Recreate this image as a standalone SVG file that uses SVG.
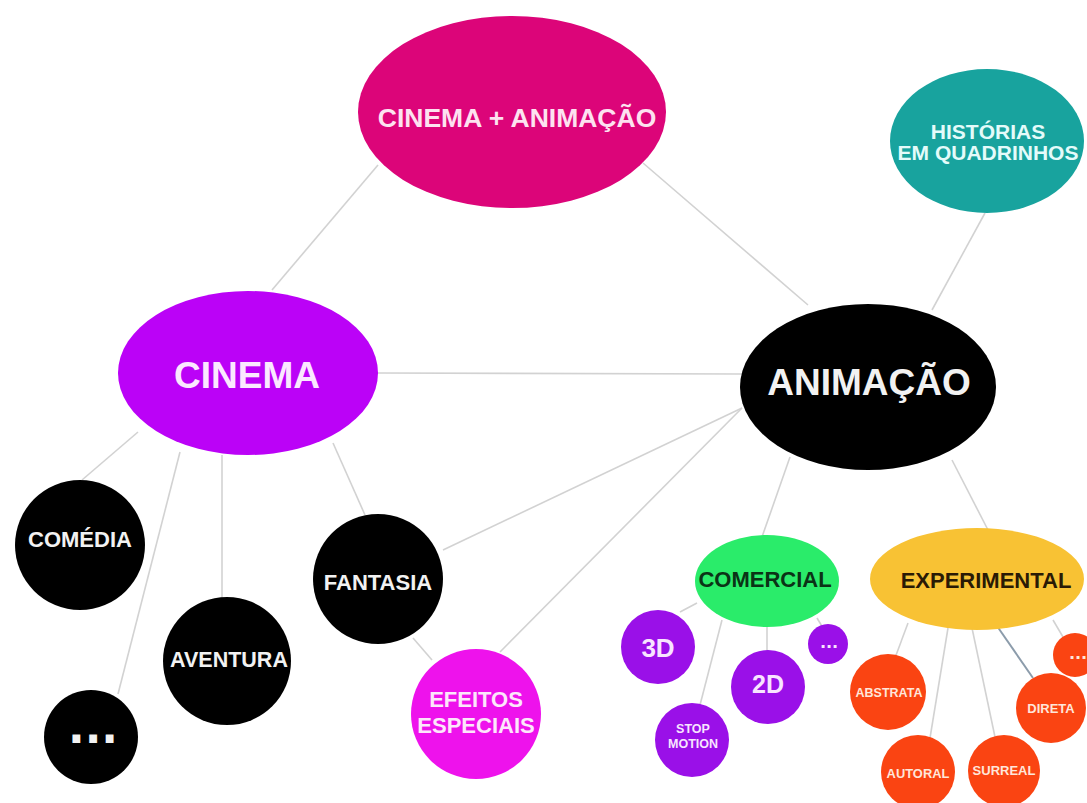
<svg xmlns="http://www.w3.org/2000/svg" width="1087" height="803" viewBox="0 0 1087 803">
<style>
.c{stroke:#d2d2d2;stroke-width:1.6;fill:none}
.c2{stroke:#8c9cab;stroke-width:2;fill:none}
text{font-family:"Liberation Sans",Arial,sans-serif;font-weight:bold;text-anchor:middle}
.dots{font-family:"DejaVu Sans",sans-serif;font-weight:bold}
.blk{fill:#000}
.wt{fill:#f2f2f2}
.pu{fill:#9a10e8}
.pt{fill:#f8e4ff}
.or{fill:#fa4412}
.ot{fill:#ffe6da}
</style>
<rect width="1087" height="803" fill="#fff"/>
<g id="connectors">
<line class="c" x1="378" y1="165" x2="272" y2="290"/>
<line class="c" x1="643" y1="163" x2="808" y2="305"/>
<line class="c" x1="985" y1="213" x2="932" y2="310"/>
<line class="c" x1="378" y1="373" x2="742" y2="374"/>
<line class="c" x1="138" y1="432" x2="82" y2="480"/>
<line class="c" x1="180" y1="452" x2="118" y2="694"/>
<line class="c" x1="222" y1="455" x2="222" y2="598"/>
<line class="c" x1="333" y1="443" x2="365" y2="515"/>
<line class="c" x1="413" y1="638" x2="432" y2="660"/>
<line class="c" x1="742" y1="408" x2="443" y2="550"/>
<line class="c" x1="742" y1="408" x2="500" y2="652"/>
<line class="c" x1="790" y1="457" x2="762" y2="537"/>
<line class="c" x1="952" y1="460" x2="988" y2="530"/>
<line class="c" x1="697" y1="603" x2="680" y2="612"/>
<line class="c" x1="722" y1="620" x2="700" y2="705"/>
<line class="c" x1="767" y1="625" x2="767" y2="652"/>
<line class="c" x1="817" y1="618" x2="823" y2="628"/>
<line class="c" x1="908" y1="623" x2="895" y2="658"/>
<line class="c" x1="948" y1="628" x2="930" y2="738"/>
<line class="c" x1="972" y1="628" x2="995" y2="737"/>
<line class="c2" x1="997" y1="626" x2="1033" y2="678"/>
<line class="c" x1="1053" y1="620" x2="1063" y2="637"/>
</g>
<g id="cinema-animacao">
<ellipse cx="512" cy="112" rx="154" ry="96" fill="#dc0579"/>
<text x="517" y="127" font-size="26.5" fill="#fde2f0">CINEMA + ANIMAÇÃO</text>
</g>
<g id="historias">
<ellipse cx="987" cy="141" rx="97" ry="72" fill="#18a39e"/>
<text x="988" y="139" font-size="21" fill="#e4fbfa">HISTÓRIAS</text>
<text x="988" y="160" font-size="21" fill="#e4fbfa">EM QUADRINHOS</text>
</g>
<g id="cinema">
<ellipse cx="248" cy="373" rx="130" ry="82" fill="#bb02f7"/>
<text x="247" y="388" font-size="37" fill="#fbe8ff">CINEMA</text>
</g>
<g id="animacao">
<ellipse cx="868" cy="387" rx="128" ry="83" class="blk"/>
<text x="869" y="395" font-size="37" class="wt">ANIMAÇÃO</text>
</g>
<g id="comedia">
<circle cx="80" cy="545" r="65" class="blk"/>
<text x="80" y="547" font-size="22" class="wt">COMÉDIA</text>
</g>
<g id="etc-cinema">
<circle cx="91" cy="737" r="47" class="blk"/>
<text x="93" y="743" font-size="44" class="dots wt">...</text>
</g>
<g id="aventura">
<circle cx="227" cy="661" r="64" class="blk"/>
<text x="229" y="667" font-size="21.5" class="wt">AVENTURA</text>
</g>
<g id="fantasia">
<circle cx="378" cy="579" r="65" class="blk"/>
<text x="378" y="590" font-size="22" class="wt">FANTASIA</text>
</g>
<g id="efeitos">
<circle cx="476" cy="714" r="65" fill="#ee12ec"/>
<text x="476" y="707" font-size="22" fill="#fde6fb">EFEITOS</text>
<text x="476" y="733" font-size="22" fill="#fde6fb">ESPECIAIS</text>
</g>
<g id="comercial">
<ellipse cx="767" cy="581" rx="72" ry="46" fill="#2aec6a"/>
<text x="765" y="587" font-size="22" fill="#0b3316">COMERCIAL</text>
</g>
<g id="experimental">
<ellipse cx="977" cy="579" rx="107" ry="51" fill="#f8c234"/>
<text x="986" y="588" font-size="22" fill="#2a1a05">EXPERIMENTAL</text>
</g>
<g id="n3d">
<circle cx="658" cy="647" r="37" class="pu"/>
<text x="658" y="657" font-size="26" class="pt">3D</text>
</g>
<g id="stopmotion">
<circle cx="692" cy="740" r="37" class="pu"/>
<text x="693" y="733" font-size="12.5" class="pt">STOP</text>
<text x="693" y="748" font-size="12.5" class="pt">MOTION</text>
</g>
<g id="n2d">
<circle cx="768" cy="687" r="37" class="pu"/>
<text x="768" y="693" font-size="25" class="pt">2D</text>
</g>
<g id="etc-comercial">
<circle cx="828" cy="644" r="20" class="pu"/>
<text x="829" y="648" font-size="16" class="dots pt">...</text>
</g>
<g id="abstrata">
<circle cx="888" cy="692" r="38" class="or"/>
<text x="889" y="697" font-size="12.5" class="ot">ABSTRATA</text>
</g>
<g id="autoral">
<circle cx="918" cy="772" r="37" class="or"/>
<text x="918" y="778" font-size="12.9" class="ot">AUTORAL</text>
</g>
<g id="surreal">
<circle cx="1004" cy="771" r="36" class="or"/>
<text x="1004" y="775" font-size="13" class="ot">SURREAL</text>
</g>
<g id="direta">
<circle cx="1051" cy="708" r="35" class="or"/>
<text x="1051" y="713" font-size="13" class="ot">DIRETA</text>
</g>
<g id="etc-experimental">
<circle cx="1075" cy="655" r="22" class="or"/>
<text x="1078" y="659" font-size="16" class="dots ot">...</text>
</g>
</svg>
